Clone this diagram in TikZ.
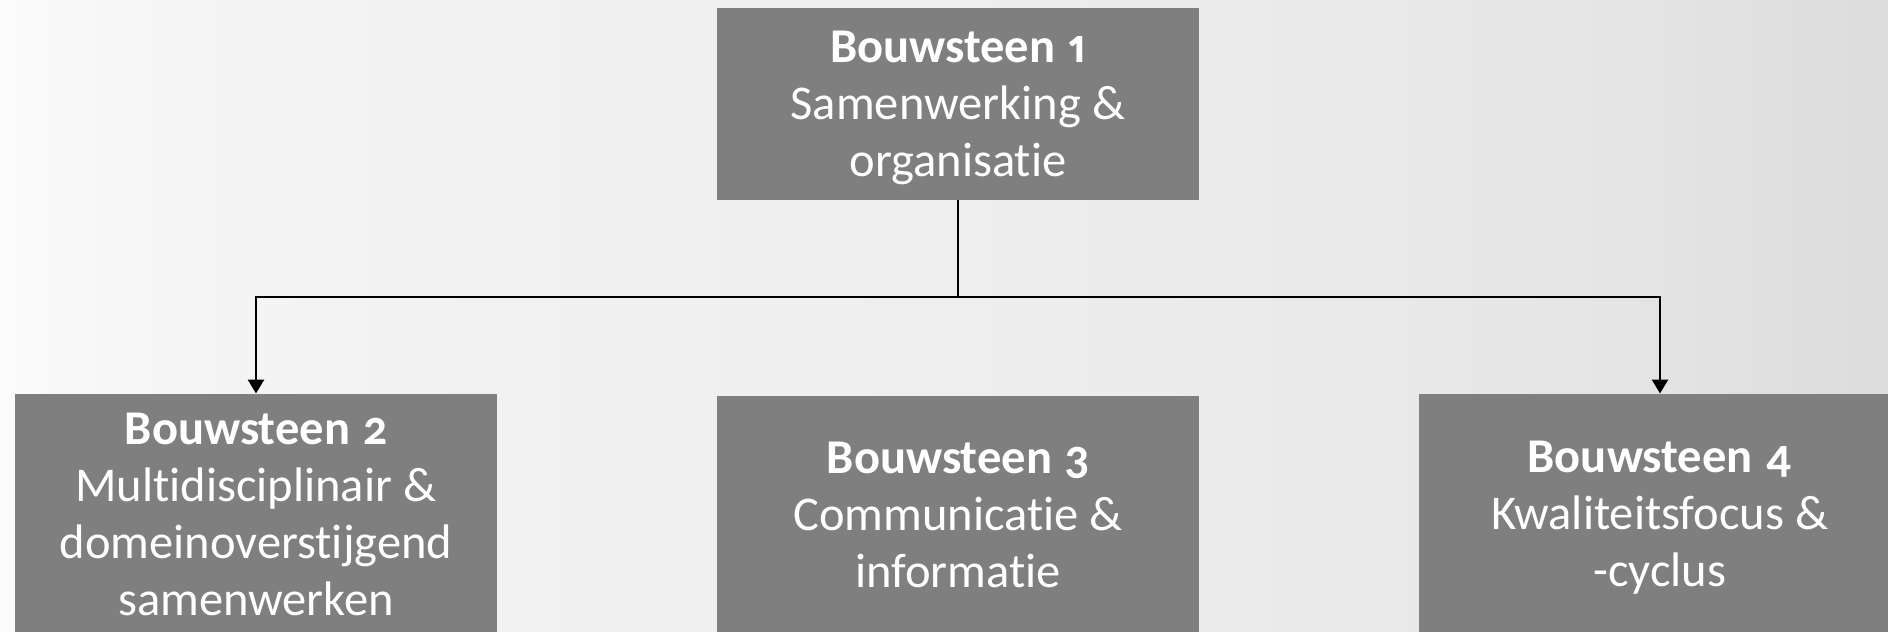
\documentclass[tikz,border=0pt]{standalone}
\usepackage{fontspec}
\setmainfont{Carlito}[Numbers={OldStyle,Proportional}, Ligatures=NoCommon, WordSpace=0.7]
\usetikzlibrary{arrows.meta}
\definecolor{bg0}{HTML}{FBFBFB}
\definecolor{bg1}{HTML}{F5F5F5}
\definecolor{bg2}{HTML}{F1F1F1}
\definecolor{bg3}{HTML}{EEEEEE}
\definecolor{bg4}{HTML}{EAEAEA}
\definecolor{bg5}{HTML}{E5E5E5}
\definecolor{bg6}{HTML}{DCDCDC}
\definecolor{boxgray}{HTML}{7F7F7F}
\pgfdeclarehorizontalshading{bgshade}{100bp}{color(0bp)=(bg0); color(25bp)=(bg0); color(29.5bp)=(bg1); color(38bp)=(bg2); color(50bp)=(bg3); color(60bp)=(bg4); color(68bp)=(bg5); color(75bp)=(bg6); color(100bp)=(bg6)}
\newcommand\nodepth[1]{\raisebox{0pt}[\height][0pt]{#1}}
\newcommand\andsign{\kern-5pt\&}
\newcommand\bstitle[1]{\textbf{Bouwsteen \kern-3pt#1}}
\tikzset{
  block/.style={fill=boxgray, text=white, draw=none, inner sep=0pt, outer sep=0pt,
    minimum width=482pt, text width=470pt, align=center,
    font=\fontsize{48.5}{57}\selectfont},
  link/.style={line width=2.8pt, draw=black},
  arr/.style={link, -{Triangle[width=16pt,length=14pt]}}
}
\begin{document}
\begin{tikzpicture}[x=1pt,y=-1pt]
\useasboundingbox (0,0) rectangle (1888,632);
\begin{scope}
\clip (0,0) rectangle (1888,632);
\shade[shading=bgshade] (0,0) rectangle (1888,632);
\node[block, minimum height=192pt] (b1) at (958,104) {\bstitle{1}\\Samenwerking \andsign\\\nodepth{organisatie}};
\node[block, minimum height=241pt] (b2) at (256,514) {\bstitle{2}\\Multidisciplinair \andsign\\domeinoverstijgend\\samenwerken};
\node[block, minimum height=239pt] (b3) at (958,515) {\bstitle{3}\\Communicatie \andsign\\informatie};
\node[block, minimum height=241pt] (b4) at (1660,514) {\bstitle{4}\\Kwaliteitsfocus \andsign\\\nodepth{-cyclus}};
\end{scope}
\coordinate (split) at (958,297);
\draw[link] (b1.south) -- (split);
\draw[arr] (split) -| (b2.north);
\draw[arr] (split) -| (b4.north);
\end{tikzpicture}
\end{document}
